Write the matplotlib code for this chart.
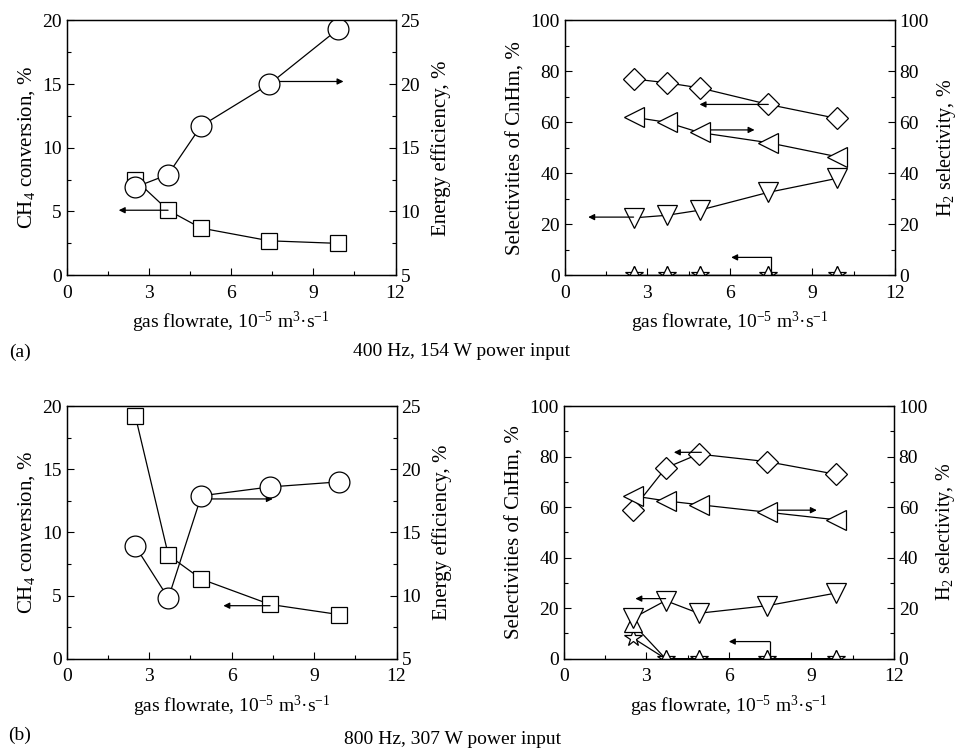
import matplotlib
matplotlib.use("Agg")
import matplotlib.pyplot as plt
from matplotlib.ticker import MultipleLocator

plt.rcParams["font.family"] = ["Liberation Serif", "DejaVu Serif"]
plt.rcParams["mathtext.fontset"] = "custom"
plt.rcParams["mathtext.rm"] = "Liberation Serif"
plt.rcParams["mathtext.it"] = "Liberation Serif:italic"
plt.rcParams["font.size"] = 14

# Datos
flow = [2.5, 3.7, 4.9, 7.4, 9.9]

# (a) 400 Hz, 154 W
conv_a = [7.5, 5.1, 3.7, 2.7, 2.5]
eff_a = [11.9, 12.9, 16.7, 20.0, 24.3]
diam_a = [77, 75.5, 73.5, 67, 61.5]
h2_a = [62, 60, 56, 52, 46.5]
down_a = [22.5, 23.5, 25.5, 32.5, 38]
up_a = [0, 0, 0, 0, 0]
star_a = [0, 0, 0, 0, 0]

# (b) 800 Hz, 307 W
conv_b = [19.2, 8.2, 6.3, 4.3, 3.5]
eff_b = [13.9, 9.8, 17.9, 18.6, 19.0]
diam_b = [59, 75.5, 81, 78, 73]
h2_b = [64.5, 62.5, 61, 58, 55]
down_b = [16, 23, 18, 21, 26]
up_b = [14, 0, 0, 0, 0]
star_b = [8.3, 0, 0, 0, 0]

xlabel = "gas flowrate, 10$^{-5}$ m$^3$·s$^{-1}$"

# flechas: (x inicio, x fin, y) en coordenadas del eje izquierdo
arrows_conv_a = [(3.7, 1.9, 5.1), (7.45, 10.1, 15.2)]
arrows_conv_b = [(4.95, 7.5, 12.65), (7.4, 5.7, 4.2)]
arrows_sel_a = [(7.4, 4.9, 67), (4.9, 6.9, 57), (2.5, 0.85, 22.8)]
arrows_sel_b = [(5.0, 4.0, 81.7), (7.5, 9.2, 58.8), (3.7, 2.6, 23.8)]
bent_a = (7.5, 6.05, 7)
bent_b = (7.5, 6.0, 6.8)

fig = plt.figure(figsize=(9.59, 7.52), dpi=100)

mk = dict(color="black", lw=0.9, markerfacecolor="white", markeredgecolor="black",
          markeredgewidth=0.9)


def style_axes(ax, ax2, major, minor, major2, minor2):
    ax.set_xlim(0, 12)
    ax.xaxis.set_major_locator(MultipleLocator(3))
    ax.xaxis.set_minor_locator(MultipleLocator(1.5))
    ax.yaxis.set_major_locator(MultipleLocator(major))
    ax.yaxis.set_minor_locator(MultipleLocator(minor))
    ax2.yaxis.set_major_locator(MultipleLocator(major2))
    ax2.yaxis.set_minor_locator(MultipleLocator(minor2))
    for a in (ax, ax2):
        a.tick_params(which="major", direction="in", length=5, width=0.8, labelsize=14)
        a.tick_params(which="minor", direction="in", length=3, width=0.8)
        for s in a.spines.values():
            s.set_linewidth(0.9)
    ax.tick_params(axis="y", which="both", right=False)
    ax.tick_params(axis="x", pad=7)
    ax.set_xlabel(xlabel, fontsize=14, labelpad=6)


def draw_arrows(ax, arrows):
    for x0, x1, y in arrows:
        ax.annotate("", xy=(x1, y), xytext=(x0, y),
                    arrowprops=dict(arrowstyle="-|>", color="black", lw=0.9,
                                    mutation_scale=9, shrinkA=0, shrinkB=0))


def conv_panel(rect, conv, eff, arrows):
    ax = fig.add_axes(rect)
    ax2 = ax.twinx()
    ax.plot(flow, conv, marker="s", markersize=11, **mk)
    ax2.plot(flow, eff, marker="o", markersize=15, **mk)
    ax.set_ylim(0, 20)
    ax2.set_ylim(5, 25)
    style_axes(ax, ax2, 5, 2.5, 5, 2.5)
    ax.set_ylabel("CH$_4$ conversion, %", fontsize=15, labelpad=4)
    ax2.set_ylabel("Energy efficiency, %", fontsize=15, labelpad=8)
    draw_arrows(ax, arrows)
    return ax


def sel_panel(rect, diam, h2, down, up, star, arrows, bent):
    ax = fig.add_axes(rect)
    ax2 = ax.twinx()
    ax.plot(flow, star, marker="*", markersize=13, **mk)
    ax.plot(flow, up, marker="^", markersize=13, **mk)
    ax.plot(flow, down, marker="v", markersize=14, **mk)
    ax.plot(flow, diam, marker="D", markersize=11, **mk)
    ax2.plot(flow, h2, marker="<", markersize=14, **mk)
    ax.set_ylim(0, 100)
    ax2.set_ylim(0, 100)
    style_axes(ax, ax2, 20, 10, 20, 10)
    ax.set_ylabel("Selectivities of CnHm, %", fontsize=15, labelpad=4)
    ax2.set_ylabel("H$_2$ selectivity, %", fontsize=14.5, labelpad=4)
    draw_arrows(ax, arrows)
    xb, xe, yb = bent
    ax.plot([xb, xb], [0, yb], color="black", lw=0.9)
    draw_arrows(ax, [(xb, xe, yb)])
    return ax


conv_panel([0.0695, 0.634, 0.343, 0.339], conv_a, eff_a, arrows_conv_a)
sel_panel([0.589, 0.634, 0.344, 0.339], diam_a, h2_a, down_a, up_a, star_a,
          arrows_sel_a, bent_a)
conv_panel([0.0695, 0.124, 0.344, 0.336], conv_b, eff_b, arrows_conv_b)
sel_panel([0.588, 0.124, 0.344, 0.336], diam_b, h2_b, down_b, up_b, star_b,
          arrows_sel_b, bent_b)

fig.text(0.010, 1 - 352 / 752, "(a)", fontsize=14, va="center")
fig.text(0.481, 1 - 352 / 752, "400 Hz, 154 W power input", fontsize=14,
         va="center", ha="center")
fig.text(0.008, 1 - 735 / 752, "(b)", fontsize=14, va="center")
fig.text(0.472, 1 - 740 / 752, "800 Hz, 307 W power input", fontsize=14,
         va="center", ha="center")

plt.savefig("out.png", dpi=100)
